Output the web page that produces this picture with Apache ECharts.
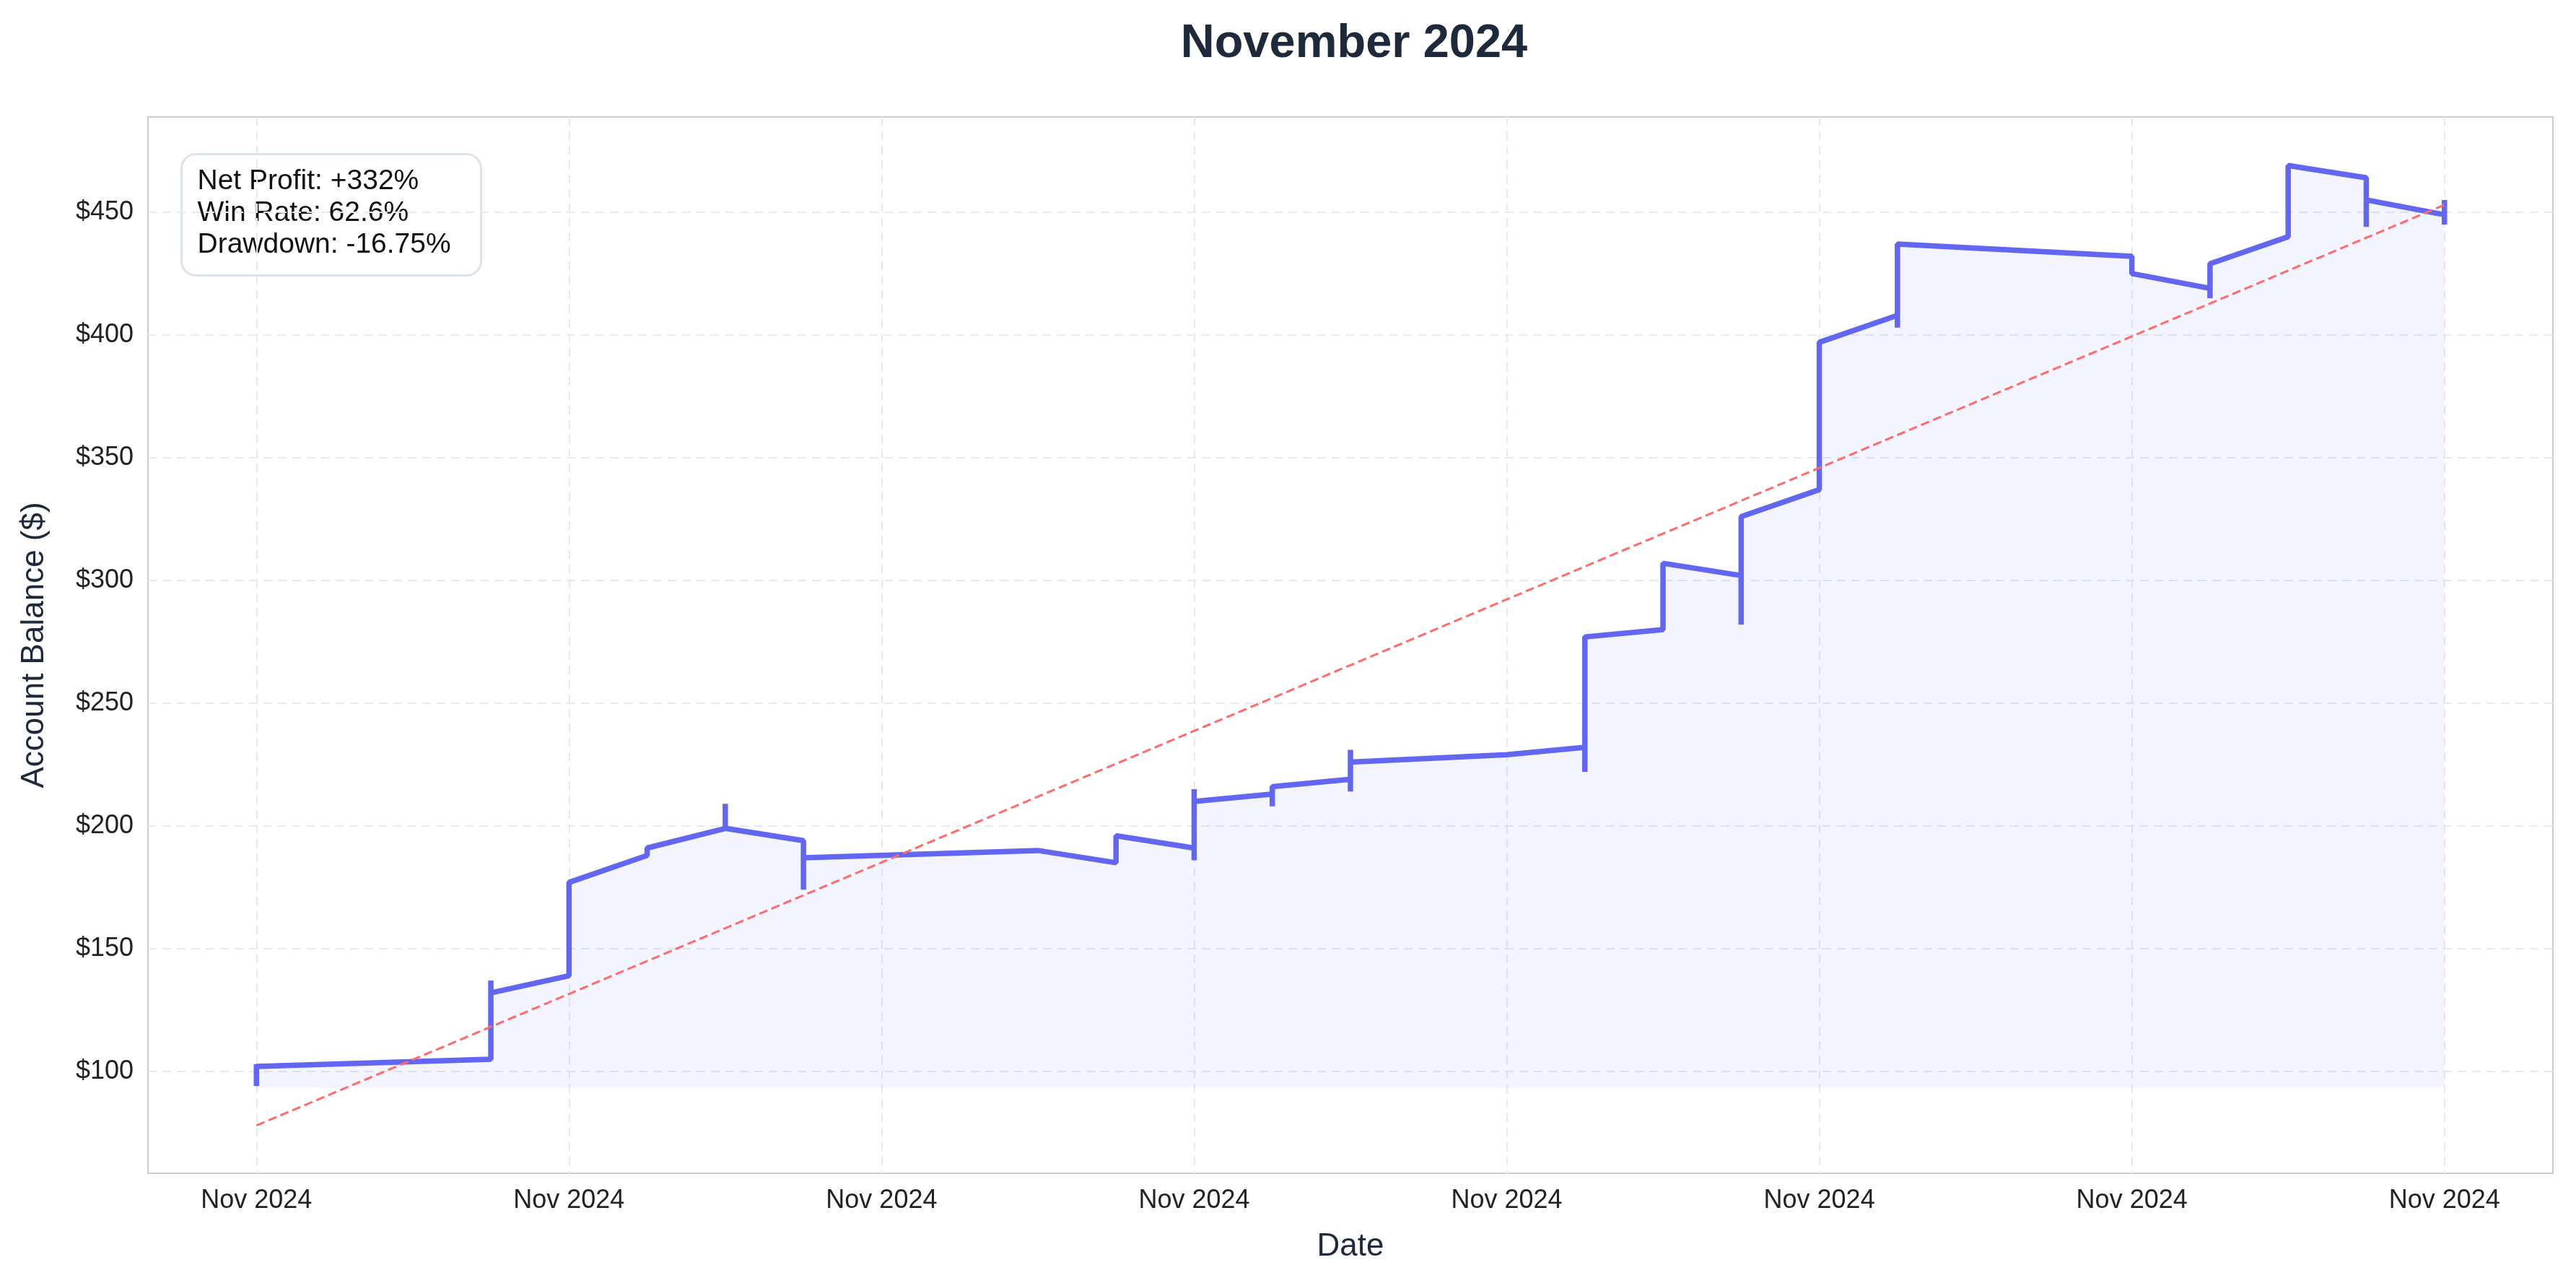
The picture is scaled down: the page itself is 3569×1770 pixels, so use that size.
<!DOCTYPE html>
<html><head><meta charset="utf-8">
<script src="https://cdn.jsdelivr.net/npm/echarts@6/dist/echarts.min.js"></script>
<style>html,body{margin:0;padding:0;background:#fff}#c{width:3569px;height:1770px}</style>
</head><body><div id="c"></div>
<script>
const days = [0,0,0, 0.75,0.75,0.75, 1,1, 1.25,1.25, 1.5,1.5,1.5, 1.75,1.75,1.75, 2.5, 2.75,2.75, 3,3,3,3, 3.25,3.25,3.25, 3.5,3.5,3.5,3.5, 4, 4.25,4.25,4.25, 4.5,4.5, 4.75,4.75,4.75, 5,5,5, 5.25,5.25,5.25, 6,6, 6.25,6.25,6.25, 6.5,6.5, 6.75,6.75,6.75, 7,7,7,7];
const balance = [94,103,102, 105,137,132, 139,177, 188,191, 199,209,199, 194,174,187, 190, 185,196, 191,186,215,210, 213,208,216, 219,214,231,226, 229, 232,222,277, 280,307, 302,282,326, 337,375,397, 408,403,437, 432,425, 419,415,429, 440,469, 464,444,455, 449,445,455,451];
const trendX = [0, 7];
const trendY = [78, 453];
const yTicks = [100,150,200,250,300,350,400,450];
const xTicks = [0,1,2,3,4,5,6,7];
const xLabel = 'Nov 2024';
const statsText = ['Net Profit: +332%','Win Rate: 62.6%','Drawdown: -16.75%'];

const chart = echarts.init(document.getElementById('c'));
const font = 'Liberation Sans, Arial, sans-serif';
chart.setOption({
  backgroundColor:'#fff',
  animation:false,
  title:{text:'November 2024',left:1871,textAlign:'center',top:24,textStyle:{fontSize:65,fontWeight:'bold',color:'#1e293b',fontFamily:font}},
  grid:{left:205,right:32,top:162,bottom:145,show:true,borderColor:'#cccccc',borderWidth:2},
  graphic:[{type:'group',left:250,top:212,children:[
    {type:'rect',shape:{x:0,y:0,width:415,height:168,r:20},style:{fill:'rgba(255,255,255,0.9)',stroke:'#dde3ea',lineWidth:3}},
    {type:'text',style:{x:22,y:16,text:statsText.join('\n'),font:'39px '+font,fill:'#111',lineHeight:44}}
  ]}],
  xAxis:{type:'value',min:-0.347,max:7.347,name:'Date',nameLocation:'middle',nameGap:80,
    nameTextStyle:{fontSize:44,color:'#1e293b',fontFamily:font},
    axisLine:{show:false},axisTick:{show:false,customValues:xTicks},
    axisLabel:{customValues:xTicks,formatter:()=>xLabel,fontSize:36,color:'#222',fontFamily:font,margin:20},
    splitLine:{show:true,lineStyle:{color:'#e6e9f2',type:[12,8],width:2}}},
  yAxis:{type:'value',min:58.5,max:488.8,name:'Account Balance ($)',nameLocation:'middle',nameGap:135,
    nameTextStyle:{fontSize:44,color:'#1e293b',fontFamily:font},
    axisLine:{show:false},axisTick:{show:false,customValues:yTicks},
    axisLabel:{customValues:yTicks,formatter:v=>'$'+v,fontSize:36,color:'#222',fontFamily:font,margin:20},
    splitLine:{show:true,lineStyle:{color:'#e6e9f2',type:[12,8],width:2}}},
  series:[
    {type:'line',data:days.map((d,i)=>[d,balance[i]]),showSymbol:false,
     lineStyle:{color:'#6366f1',width:7.5},
     areaStyle:{color:'rgba(99,102,241,0.1)',origin:93.3}},
    {type:'line',data:trendX.map((d,i)=>[d,trendY[i]]),showSymbol:false,
     lineStyle:{color:'#ff6b6b',width:3,type:[12,6]}}
  ]
});
</script></body></html>
